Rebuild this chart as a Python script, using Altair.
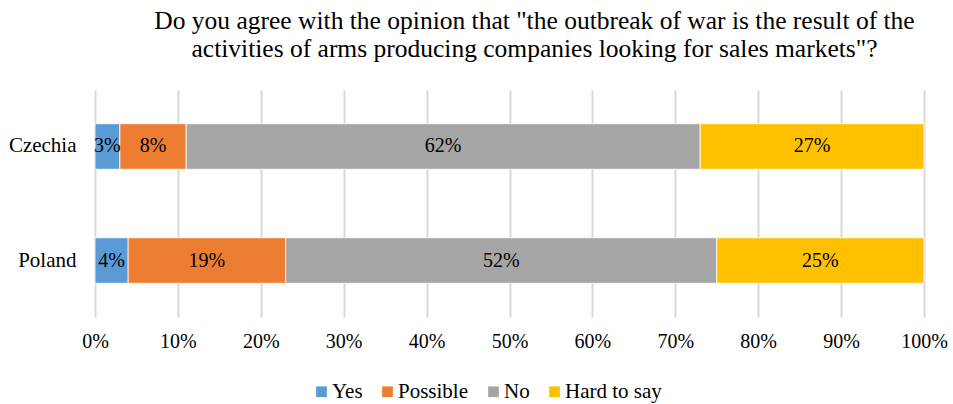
import altair as alt
import pandas as pd

countries = ["Czechia", "Poland"]
answers = ["Yes", "Possible", "No", "Hard to say"]
czechia_values = [3, 8, 62, 27]
poland_values = [4, 19, 52, 25]
colors = ["#5B9BD5", "#ED7D31", "#A5A5A5", "#FFC000"]

rows = []
for c, vals in zip(countries, [czechia_values, poland_values]):
    for i, (a, v) in enumerate(zip(answers, vals)):
        rows.append({"country": c, "answer": a, "value": v, "order": i})
df = pd.DataFrame(rows)

FONT = "'Times New Roman', 'Liberation Serif', 'DejaVu Serif', serif"

base = alt.Chart(df).transform_stack(
    stack="value", groupby=["country"], as_=["start", "end"],
    sort=[alt.SortField("order", order="ascending")]
).transform_calculate(
    mid="(datum.start + datum.end) / 2",
    label="datum.value + '%'"
)

y_enc = alt.Y("country:N", sort=countries, title=None,
              scale=alt.Scale(paddingInner=0.601, paddingOuter=0.296),
              axis=alt.Axis(labelFont=FONT, labelFontSize=21, labelColor="#000000",
                            ticks=False, domain=False, labelPadding=19, grid=False))

bars = base.mark_bar(stroke="white", strokeWidth=0.8).encode(
    x=alt.X("start:Q", title=None,
            scale=alt.Scale(domain=[0, 100], nice=False),
            axis=alt.Axis(values=list(range(0, 101, 10)), labelExpr="datum.value + '%'",
                          labelFont=FONT, labelFontSize=20, labelColor="#000000",
                          labelFlush=False, labelOverlap=False,
                          ticks=False, domain=False, labelPadding=14,
                          grid=True, gridColor="#D9D9D9", gridWidth=2)),
    x2="end:Q",
    y=y_enc,
    color=alt.Color("answer:N", sort=answers,
                    scale=alt.Scale(domain=answers, range=colors),
                    legend=alt.Legend(title=None, orient="none", direction="horizontal",
                                      legendX=216, legendY=291,
                                      symbolType="square", symbolSize=115,
                                      symbolStrokeWidth=0,
                                      labelFont=FONT, labelFontSize=21, labelColor="#000000",
                                      columnPadding=14, labelOffset=0)),
    order=alt.Order("order:Q"),
)

texts = base.mark_text(font=FONT, fontSize=20, color="#000000", baseline="middle").encode(
    x="mid:Q",
    y=alt.Y("country:N", sort=countries),
    text="label:N",
)

chart = alt.layer(bars, texts).properties(
    width=829, height=227,
    autosize=alt.AutoSizeParams(type="none"),
    padding={"left": 95, "top": 90, "right": 29, "bottom": 87},
    title=alt.Title(
        ["Do you agree with the opinion that \"the outbreak of war is the result of the",
         "activities of arms producing companies looking for sales markets\"?"],
        font=FONT, fontSize=25.5, fontWeight="normal", color="#000000",
        anchor="middle", dx=25, offset=28, lineHeight=28),
).configure_view(stroke=None)

chart.save("out.html", embed_options={"renderer": "svg", "actions": False})
